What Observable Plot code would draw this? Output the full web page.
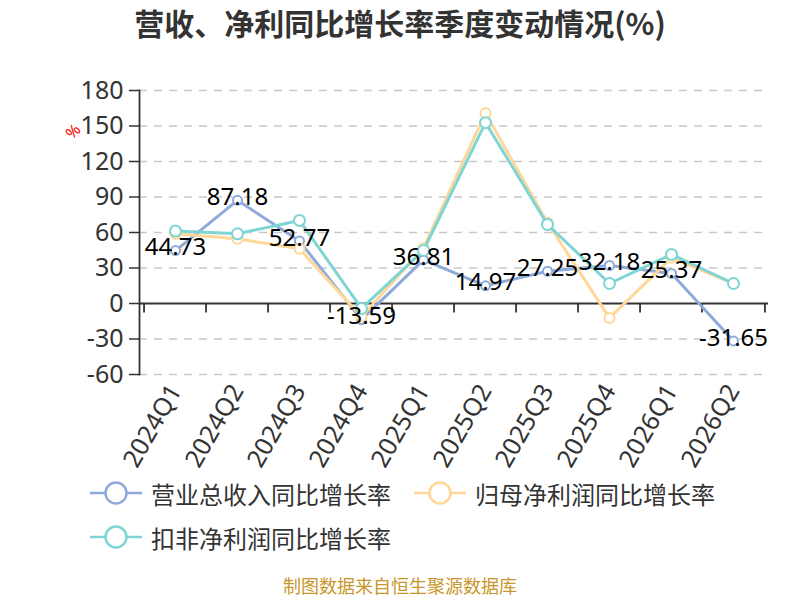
<!DOCTYPE html>
<html>
<head>
<meta charset="utf-8">
<script src="https://cdn.jsdelivr.net/npm/d3@7"></script>
<script src="https://cdn.jsdelivr.net/npm/@observablehq/plot@0.6"></script>
<style>
  html, body { margin: 0; padding: 0; background: #fff; }
  body { width: 800px; height: 600px; position: relative; overflow: hidden;
         font-family: "Noto Sans", "Noto Sans CJK SC", sans-serif; }
  #title { position: absolute; top: 2px; left: 0; width: 800px; text-align: center; line-height: 40px;
           font-size: 30px; font-weight: bold; color: #333; font-family: "Noto Sans CJK SC", sans-serif; }
  #chart { position: absolute; top: 60px; left: 0; }
  .leg { position: absolute; display: flex; align-items: center; font-size: 24px; color: #333;
         font-family: "Noto Sans CJK SC", sans-serif; }
  .leg svg { margin-right: 9px; }
  #caption { position: absolute; top: 575px; left: 0; width: 800px; text-align: center; line-height: 20px;
             font-size: 18px; color: #c9962b; font-family: "Noto Sans CJK SC", sans-serif; }
  #unit { position: absolute; left: 66px; top: 120px; color: red; font-size: 16px; transform: rotate(-45deg); }
</style>
</head>
<body>
<div id="title">营收、净利同比增长率季度变动情况(%)</div>
<div id="chart"></div>
<div id="unit">%</div>
<div id="legend"></div>
<div id="caption">制图数据来自恒生聚源数据库</div>
<script>
const quarters = ["2024Q1","2024Q2","2024Q3","2024Q4","2025Q1","2025Q2","2025Q3","2025Q4","2026Q1","2026Q2"];
const revenueGrowth = [44.73, 87.18, 52.77, -13.59, 36.81, 14.97, 27.25, 32.18, 25.37, -31.65];
const netProfitGrowth = [58.9, 54.7, 46.2, -11.3, 47.0, 160.8, 68.2, -12.2, 38.6, 16.9];
const deductedProfitGrowth = [61.2, 58.9, 70.2, -4.2, 44.8, 152.8, 66.8, 16.9, 41.5, 16.9];
const seriesNames = ["营业总收入同比增长率", "归母净利润同比增长率", "扣非净利润同比增长率"];
const seriesColors = ["#8eaadb", "#ffd797", "#7fd5d4"];
const yTicks = [-60, -30, 0, 30, 60, 90, 120, 150, 180];

const rows = (vals) => quarters.map((q, i) => ({q, v: vals[i]}));
const rev = rows(revenueGrowth), np = rows(netProfitGrowth), dp = rows(deductedProfitGrowth);

const W = 800, ML = 139, MR = 32;
const bw = (W - ML - MR) / quarters.length;

const chart = Plot.plot({
  width: W, height: 420,
  marginLeft: ML, marginRight: MR, marginTop: 30, marginBottom: 106,
  style: {fontFamily: '"Noto Sans", "Noto Sans CJK SC", sans-serif', background: "white"},
  x: {type: "band", domain: quarters, padding: 0},
  y: {domain: [-60, 180]},
  marks: [
    Plot.ruleY(yTicks.filter(d => d !== 0), {stroke: "#c8c8c8", strokeWidth: 1.5, strokeDasharray: "8,7"}),
    Plot.axisY({ticks: yTicks, tickFormat: d => String(d), tickSize: 10, tickPadding: 6, fontSize: 25, fill: "#333", stroke: "#333", strokeWidth: 1.5, label: null}),
    Plot.axisX({tickSize: 0, tickRotate: -60, tickPadding: 12, fontSize: 25, fill: "#333", label: null}),
    Plot.ruleY([0], {stroke: "#333", strokeWidth: 1.8}),
    Plot.ruleX(quarters, {x: d => d, y1: 0, y2: -8, dx: -bw / 2, stroke: "#333", strokeWidth: 1.8}),
    Plot.ruleX(quarters.slice(-1), {x: d => d, y1: 0, y2: -8, dx: bw / 2, stroke: "#333", strokeWidth: 1.8}),
    Plot.frame({anchor: "left", stroke: "#333", strokeWidth: 1.8}),
    Plot.lineY(rev, {x: "q", y: "v", stroke: seriesColors[0], strokeWidth: 3}),
    Plot.dot(rev, {x: "q", y: "v", r: 4.5, fill: "white", stroke: seriesColors[0], strokeWidth: 2}),
    Plot.lineY(np, {x: "q", y: "v", stroke: seriesColors[1], strokeWidth: 3}),
    Plot.dot(np, {x: "q", y: "v", r: 5, fill: "white", stroke: seriesColors[1], strokeWidth: 2}),
    Plot.lineY(dp, {x: "q", y: "v", stroke: seriesColors[2], strokeWidth: 3}),
    Plot.dot(dp, {x: "q", y: "v", r: 5.5, fill: "white", stroke: seriesColors[2], strokeWidth: 2}),
    Plot.text(rev, {x: "q", y: "v", text: d => d.v.toFixed(2), fontSize: 24, fill: "#000", dy: -3})
  ]
});
document.getElementById("chart").appendChild(chart);

const legendPos = [[90, 493], [414, 493], [90, 537]];
const legend = document.getElementById("legend");
seriesNames.forEach((name, i) => {
  const div = document.createElement("div");
  div.className = "leg";
  div.style.left = legendPos[i][0] + "px";
  div.style.top = (legendPos[i][1] - 16) + "px";
  div.style.height = "32px";
  const c = seriesColors[i];
  div.innerHTML = `<svg width="52" height="26"><line x1="0" x2="52" y1="13" y2="13" stroke="${c}" stroke-width="2.5"/><circle cx="26" cy="13" r="10.5" fill="white" stroke="${c}" stroke-width="2.5"/></svg><span>${name}</span>`;
  legend.appendChild(div);
});
</script>
</body>
</html>
